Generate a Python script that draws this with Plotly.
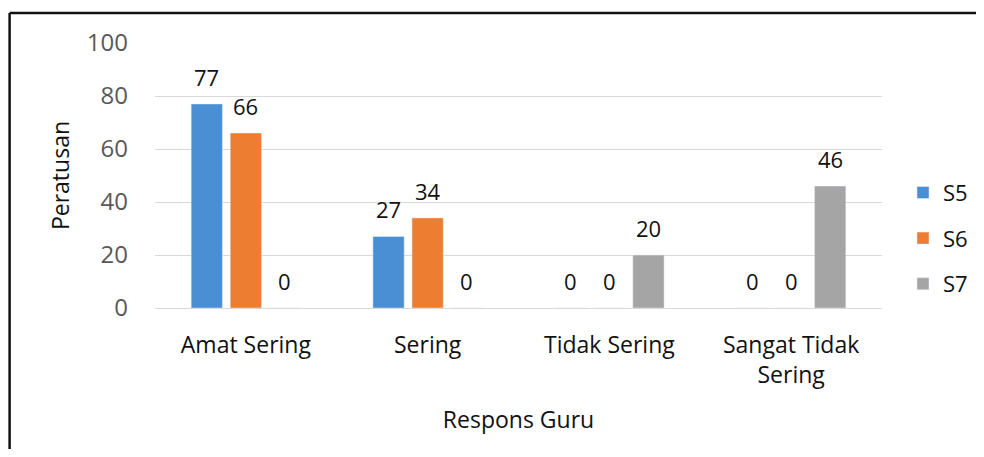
import plotly.graph_objects as go

categories = ["Amat Sering", "Sering", "Tidak Sering", "Sangat Tidak<br>Sering"]
s5 = [77, 27, 0, 0]
s6 = [66, 34, 0, 0]
s7 = [0, 0, 20, 46]
series = [("S5", s5, "#4a8fd4"), ("S6", s6, "#ed7d31"), ("S7", s7, "#a5a5a5")]

FONT = "Open Sans"
fig = go.Figure()
for i, (name, vals, col) in enumerate(series):
    fig.add_trace(go.Bar(
        x=categories, y=vals, name=name, marker_color=col,
        cliponaxis=False, legendgroup=name,
    ))
    # data labels placed above each bar of the group
    for cat, v in zip(categories, vals):
        fig.add_annotation(x=cat, y=v, xref="x", yref="y", text=str(v),
                           showarrow=False, yanchor="bottom", yshift=10,
                           xshift=(i - 1) * 39.1,
                           font=dict(family=FONT, size=22, color="#111111"))

fig.update_layout(
    width=976, height=441,
    margin=dict(l=147, r=102, t=35, b=141),
    paper_bgcolor="white", plot_bgcolor="white",
    barmode="group", bargap=0.355, bargroupgap=0.2,
    font=dict(family=FONT, color="#111111"),
    legend=dict(xref="container", yref="container", x=0.917, y=0.478,
                xanchor="left", yanchor="middle",
                font=dict(family=FONT, size=22, color="#111111"),
                tracegroupgap=14, itemwidth=30),
    showlegend=True,
)
fig.update_yaxes(
    range=[0, 100], dtick=20, showgrid=True, gridcolor="#d9d9d9", gridwidth=1.2,
    zeroline=True, zerolinecolor="#d9d9d9", zerolinewidth=1.2, showline=False,
    tickfont=dict(family=FONT, size=24, color="#595959"), ticklabelstandoff=26,
    title=dict(text="Peratusan", font=dict(family=FONT, size=23, color="#111111"), standoff=10),
)
fig.update_xaxes(
    showline=False, showgrid=False,
    tickfont=dict(family=FONT, size=23, color="#111111"), ticklabelstandoff=21,
    title=dict(text="Respons Guru", font=dict(family=FONT, size=23, color="#111111"), standoff=22),
)
# outer frame (top and left edges visible)
fig.add_shape(type="line", xref="paper", yref="paper", x0=-0.2, x1=1.5, y0=1.113, y1=1.113,
              line=dict(color="#111111", width=2.5))
fig.add_shape(type="line", xref="paper", yref="paper", x0=-0.2, x1=-0.2, y0=1.113, y1=-1,
              line=dict(color="#111111", width=2.5))

fig.write_html("out.html")
